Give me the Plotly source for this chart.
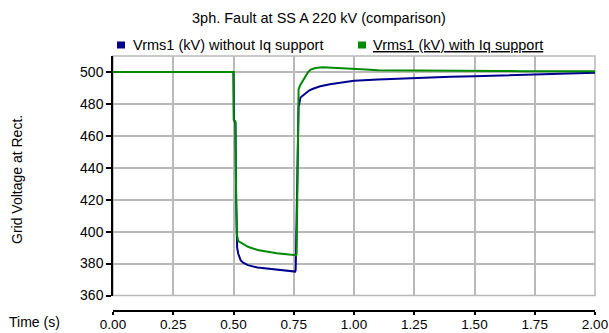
import plotly.graph_objects as go

# ---- data ----
t_without = [0.0, 0.500, 0.502, 0.508, 0.511, 0.515, 0.520, 0.530, 0.540, 0.560, 0.600, 0.640, 0.680, 0.720, 0.756,
             0.758, 0.764, 0.770, 0.778, 0.786, 0.795, 0.805, 0.815, 0.830, 0.860, 0.900, 0.950, 1.000, 1.100,
             1.200, 1.300, 1.400, 1.500, 1.600, 1.700, 1.800, 1.900, 2.000]
v_without = [500.0, 500.0, 470.0, 468.0, 420.0, 390.0, 386.0, 382.0, 380.5, 379.0, 377.5, 376.8, 376.0, 375.3, 375.0,
             376.0, 440.0, 478.0, 484.0, 485.0, 486.5, 487.5, 488.5, 489.5, 491.0, 492.3, 493.5, 494.5, 495.3,
             496.0, 496.5, 497.0, 497.3, 497.8, 498.2, 498.6, 499.0, 499.5]

t_with = [0.0, 0.500, 0.501, 0.508, 0.511, 0.514, 0.520, 0.540, 0.560, 0.600, 0.640, 0.680, 0.720, 0.760,
          0.762, 0.766, 0.770, 0.776, 0.782, 0.790, 0.800, 0.810, 0.820, 0.840, 0.870, 0.900, 0.950, 1.000,
          1.050, 1.100, 1.200, 1.300, 1.400, 1.500, 1.600, 1.700, 1.800, 1.900, 2.000]
v_with = [500.0, 500.0, 470.0, 469.0, 420.0, 398.0, 394.0, 392.0, 390.5, 388.5, 387.3, 386.5, 385.8, 385.2,
          386.0, 450.0, 489.0, 491.5, 493.0, 495.5, 498.0, 500.0, 501.5, 502.5, 503.0, 502.8, 502.5, 502.0,
          501.5, 501.0, 501.0, 500.8, 500.8, 500.6, 500.6, 500.5, 500.5, 500.5, 500.5]

x_ticks = [0.0, 0.25, 0.5, 0.75, 1.0, 1.25, 1.5, 1.75, 2.0]
y_ticks = [360, 380, 400, 420, 440, 460, 480, 500]

name_without = "Vrms1 (kV) without Iq support"
name_with = "Vrms1 (kV) with Iq support"
title_text = "3ph. Fault at SS A 220 kV (comparison)"

BLUE = "#00008f"
GREEN = "#008a00"
GRID = "#b9b9b9"
FONT = "Liberation Sans, Arial, sans-serif"

fig = go.Figure()
fig.add_trace(go.Scatter(x=t_without, y=v_without, mode="lines", name=name_without,
                         line=dict(color=BLUE, width=2), showlegend=False))
fig.add_trace(go.Scatter(x=t_with, y=v_with, mode="lines", name=name_with,
                         line=dict(color=GREEN, width=2), showlegend=False))

W, H = 609, 333
L, R, T, B = 113, 14, 56, 22
pw, ph = W - L - R, H - T - B
y_bottom_dom = (H - B - 295.5) / ph

fig.update_layout(
    width=W, height=H,
    margin=dict(l=L, r=R, t=T, b=B, pad=0, autoexpand=False),
    paper_bgcolor="white", plot_bgcolor="white",
    font=dict(family=FONT, size=14, color="#000000"),
    showlegend=False,
    xaxis=dict(range=[0, 2.0], tickvals=x_ticks, ticktext=[f"{v:.2f}" for v in x_ticks],
               anchor="free", position=0, showline=True, linecolor="black", linewidth=1.5,
               ticks="outside", ticklen=3, tickcolor="black", tickwidth=1.5,
               showgrid=True, gridcolor=GRID, gridwidth=1.5, zeroline=False,
               tickfont=dict(size=13.5), automargin=False, ticklabelstandoff=-2),
    yaxis=dict(range=[360, 510], tickvals=y_ticks, domain=[y_bottom_dom, 1],
               showline=True, linecolor="black", linewidth=1.5,
               ticks="outside", ticklen=5, tickcolor="black", tickwidth=1.5,
               showgrid=True, gridcolor=GRID, gridwidth=1.5, zeroline=False,
               tickfont=dict(size=14), automargin=False),
)

# plot border (top / right) in gray
fig.add_shape(type="rect", xref="x domain", yref="y domain", x0=0, x1=1, y0=0, y1=1,
              line=dict(color=GRID, width=1.5), fillcolor="rgba(0,0,0,0)", layer="below")

def px_x(p):
    return (p - L) / pw

def px_y(p):
    return (H - B - p) / ph

# title
fig.add_annotation(text=title_text, xref="paper", yref="paper", x=px_x(318.5), y=px_y(18),
                   showarrow=False, xanchor="center", yanchor="middle", font=dict(size=14.5))

# legend (manual)
leg_y = 45
for sx, color, txt, tx in [(117, BLUE, name_without, 131),
                           (358, GREEN, "<span style='text-decoration:underline'>" + name_with + "</span>", 371)]:
    fig.add_shape(type="rect", xref="paper", yref="paper",
                  x0=px_x(sx), x1=px_x(sx + 8), y0=px_y(leg_y - 3.5), y1=px_y(leg_y + 3.5),
                  line=dict(width=0), fillcolor=color)
    fig.add_annotation(text=txt, xref="paper", yref="paper", x=px_x(tx), y=px_y(leg_y),
                       showarrow=False, xanchor="left", yanchor="middle", font=dict(size=14.5))

# axis titles
fig.add_annotation(text="Grid Voltage at Rect.", xref="paper", yref="paper", x=px_x(17), y=px_y(180),
                   showarrow=False, textangle=-90, xanchor="center", yanchor="middle", font=dict(size=14))
fig.add_annotation(text="Time (s)", xref="paper", yref="paper", x=px_x(34), y=px_y(322),
                   showarrow=False, xanchor="center", yanchor="middle", font=dict(size=14))

fig.write_html("out.html")
